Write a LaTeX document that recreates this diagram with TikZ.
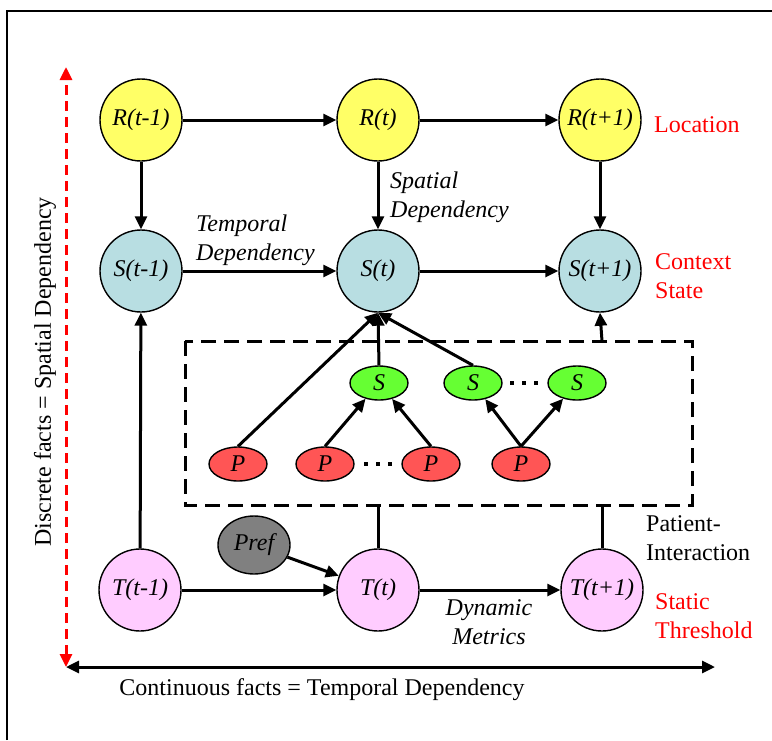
\documentclass[tikz,border=0pt]{standalone}
\usepackage{fontspec}
\setmainfont{Liberation Serif}
\usetikzlibrary{arrows.meta,shapes.geometric}
\definecolor{ylw}{RGB}{255,255,102}
\definecolor{cyn}{RGB}{184,222,226}
\definecolor{pnk}{RGB}{255,204,255}
\definecolor{grn}{RGB}{102,255,51}
\definecolor{rdn}{RGB}{255,85,85}
\definecolor{gry}{RGB}{128,128,128}
\begin{document}
\begin{tikzpicture}[x=1pt,y=-1pt,
  every node/.style={font=\fontsize{24}{29}\selectfont},
  bign/.style={circle,draw,line width=1.4pt,minimum size=82pt,inner sep=0pt,font=\fontsize{24}{29}\selectfont\itshape},
  smalln/.style={ellipse,draw,line width=1.4pt,minimum width=58pt,minimum height=34pt,inner sep=0pt,font=\fontsize{24}{29}\selectfont\itshape},
  tip/.style={Triangle[length=13pt,width=12pt]},
  arr/.style={line width=3pt,-{Triangle[length=13pt,width=12pt]}},
  ln/.style={line width=3pt},
  lbl/.style={align=left,inner sep=0pt},
  ilbl/.style={align=left,inner sep=0pt,font=\fontsize{24}{29}\selectfont\itshape},
  redlbl/.style={align=left,inner sep=0pt,text=red}]
\useasboundingbox (0,0) rectangle (772,740);
% frame
\draw[line width=2pt] (7,740) -- (7,11) -- (772,11);

% main nodes
\node[bign,fill=ylw] (R1) at (141,120) {R(t-1)};
\node[bign,fill=ylw] (R2) at (378,120) {R(t)};
\node[bign,fill=ylw] (R3) at (600,120) {R(t+1)};
\node[bign,fill=cyn] (S1) at (141,271) {S(t-1)};
\node[bign,fill=cyn] (S2) at (378,271) {S(t)};
\node[bign,fill=cyn] (S3) at (600,271) {S(t+1)};
\node[bign,fill=pnk] (T1) at (140,590) {T(t-1)};
\node[bign,fill=pnk] (T2) at (378,590) {T(t)};
\node[bign,fill=pnk] (T3) at (602,590) {T(t+1)};
\node[ellipse,draw,line width=1.4pt,fill=gry,minimum width=72pt,minimum height=58pt,inner sep=0pt,font=\fontsize{24}{29}\selectfont\itshape] (pref) at (254,545) {Pref};

% inner nodes
\node[smalln,fill=grn] (s1) at (379,383) {S};
\node[smalln,fill=grn] (s2) at (473,383) {S};
\node[smalln,fill=grn] (s3) at (577,383) {S};
\node[smalln,fill=rdn] (p1) at (238,464) {P};
\node[smalln,fill=rdn] (p2) at (325,464) {P};
\node[smalln,fill=rdn] (p3) at (431,464) {P};
\node[smalln,fill=rdn] (p4) at (521,464) {P};
% ellipsis dots
\foreach \dx in {-12,0,12} {
  \fill ({524+\dx-2.2},{383-2.2}) rectangle ({524+\dx+2.2},{383+2.2});
  \fill ({378+\dx-2.2},{464-2.2}) rectangle ({378+\dx+2.2},{464+2.2});
}

% dashed box
\coordinate (bTL) at (185,341);
\coordinate (bBR) at (692,505);
\draw[line width=3pt,dash pattern=on 15pt off 8pt] (bTL) rectangle (bBR);
\coordinate (bTop) at (602,341);
\coordinate (bB1) at (378,505);
\coordinate (bB2) at (602,505);

% connectors
\draw[arr] (R1) -- (R2);
\draw[arr] (R2) -- (R3);
\draw[arr] (S1) -- (S2);
\draw[arr] (S2) -- (S3);
\draw[arr] (T1) -- (T2);
\draw[arr] (T2) -- (T3);
\draw[arr] (R1) -- (S1);
\draw[arr] (R2) -- (S2);
\draw[arr] (R3) -- (S3);
\draw[arr] (T1) -- (S1);
\draw[arr] (pref) -- (T2);
\draw[ln] (T2.north) -- (bB1);
\draw[ln] (T3.north) -- (bB2);
\draw[arr] (bTop) -- (S3.south);

\draw[arr] (p1.north) -- (S2.south);
\draw[arr] (s1.north) -- (S2.south);
\draw[arr] (s2.north) -- (S2.south);
\draw[arr] (p2.north) -- (s1);
\draw[arr] (p3.north) -- (s1);
\draw[arr] (p4.north) -- (s2);
\draw[arr] (p4.north) -- (s3);

% axes
\coordinate (ax0) at (66,667);
\coordinate (axT) at (66,67);
\coordinate (axR) at (715,667);
\draw[line width=3pt,red,dash pattern=on 10pt off 6pt,{Triangle[length=13pt,width=12pt]}-{Triangle[length=13pt,width=12pt]}] (ax0) -- (axT);
\draw[line width=3pt,{Triangle[length=13pt,width=12pt]}-{Triangle[length=13pt,width=12pt]}] (ax0) -- (axR);

% labels
\node[redlbl,anchor=west] (loc) at (654,125) {Location};
\node[redlbl,anchor=west] (ctx) at (655,276) {Context\\State};
\node[redlbl,anchor=west] (sth) at (655,616) {Static\\Threshold};
\node[lbl,anchor=west] (pint) at (646,538) {Patient-\\Interaction};
\node[ilbl,anchor=west] (spd) at (390,197) {Spatial\\Dependency};
\node[ilbl,anchor=west] (tpd) at (196,240) {Temporal\\Dependency};
\node[ilbl,align=center] (dyn) at (489,622) {Dynamic\\Metrics};
\node[lbl] (cont) at (322,690) {Continuous facts = Temporal Dependency};
\node[lbl,rotate=90] (disc) at (45,372) {Discrete facts = Spatial Dependency};
\end{tikzpicture}
\end{document}
